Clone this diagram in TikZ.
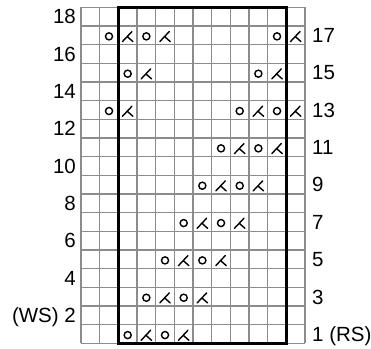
\documentclass[tikz,border=0pt]{standalone}
\usepackage{fontspec}
\setmainfont{Liberation Sans}
\begin{document}
\begin{tikzpicture}[x=18.67pt,y=18.67pt,
  gridline/.style={draw=black!45,line width=1.3pt},
  frame/.style={draw=black,line width=3pt},
  lbl/.style={inner sep=0pt,font=\fontsize{20.5}{24}\selectfont,yshift=-7.2pt},
  yo/.pic={\draw[line width=1.4pt] (0,-0.05) circle (0.19);},
  dec/.pic={\draw[line width=1.4pt,line cap=round] (-0.28,-0.33) -- (0.23,0.21) (-0.025,-0.06) -- (0.28,-0.33);}
]
\useasboundingbox (-4.339,-0.295) rectangle (15.533,18.398);
\draw[gridline] (0,0) grid[step=1] (12,18);
\draw[frame] (2,0) rectangle (11,18);
% symbols: (col,row) 1-indexed
\foreach \c/\r in {3/1,5/1, 4/3,6/3, 5/5,7/5, 6/7,8/7, 7/9,9/9, 8/11,10/11,
                   2/13,9/13,11/13, 3/15,10/15, 2/17,4/17,11/17}
  \pic at (\c-0.5,\r-0.5) {yo};
\foreach \c/\r in {4/1,6/1, 5/3,7/3, 6/5,8/5, 7/7,9/7, 8/9,10/9, 9/11,11/11,
                   3/13,10/13,12/13, 4/15,11/15, 3/17,5/17,12/17}
  \pic at (\c-0.5,\r-0.5) {dec};
% left labels
\foreach \r in {18,16,14,12,10,8,6,4}
  \node[lbl,anchor=base east] (L\r) at (-0.268,\r-0.5) {\r};
\node[lbl,anchor=base east] (L2) at (-0.268,1.5) {(WS) 2};
% right labels
\foreach \r in {17,15,13,11,9,7,5,3}
  \node[lbl,anchor=base west] (R\r) at (12.375,\r-0.5) {\r};
\node[lbl,anchor=base west] (R1) at (12.375,0.5) {1 (RS)};
\end{tikzpicture}
\end{document}
